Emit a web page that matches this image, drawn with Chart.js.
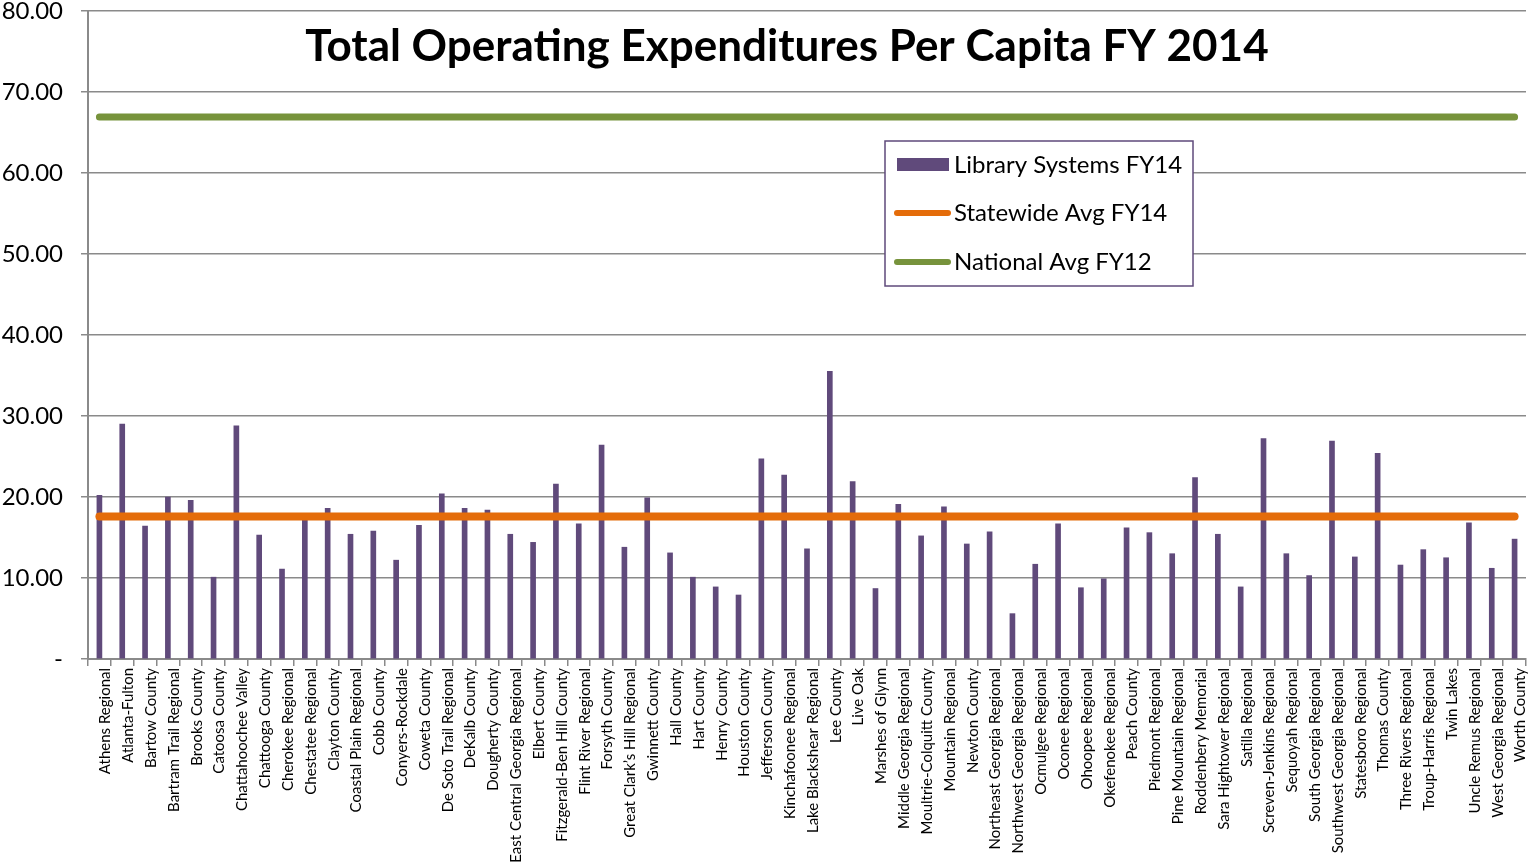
<!DOCTYPE html>
<html lang="en">
<head>
  <meta charset="utf-8"/>
  <title>Total Operating Expenditures Per Capita FY 2014</title>
  <script src="https://cdn.jsdelivr.net/npm/chart.js@4.4.1/dist/chart.umd.min.js"></script>
  <style>
    body { margin: 0; background: #fff; }
    #wrap { width: 1529px; height: 866px; position: relative; }
  </style>
</head>
<body>
  <div id="wrap"><canvas id="expChart"></canvas></div>
  <script>
    var libraries = [
      'Athens Regional', 'Atlanta-Fulton', 'Bartow County', 'Bartram Trail Regional', 'Brooks County',
      'Catoosa County', 'Chattahoochee Valley', 'Chattooga County', 'Cherokee Regional', 'Chestatee Regional',
      'Clayton County', 'Coastal Plain Regional', 'Cobb County', 'Conyers-Rockdale', 'Coweta County',
      'De Soto Trail Regional', 'DeKalb County', 'Dougherty County', 'East Central Georgia Regional', 'Elbert County',
      'Fitzgerald-Ben Hill County', 'Flint River Regional', 'Forsyth County', 'Great Clark\u2019s Hill Regional', 'Gwinnett County',
      'Hall County', 'Hart County', 'Henry County', 'Houston County', 'Jefferson County',
      'Kinchafoonee Regional', 'Lake Blackshear Regional', 'Lee County', 'Live Oak', 'Marshes of Glynn',
      'Middle Georgia Regional', 'Moultrie-Colquitt County', 'Mountain Regional', 'Newton County', 'Northeast Georgia Regional',
      'Northwest Georgia Regional', 'Ocmulgee Regional', 'Oconee Regional', 'Ohoopee Regional', 'Okefenokee Regional',
      'Peach County', 'Piedmont Regional', 'Pine Mountain Regional', 'Roddenbery Memorial', 'Sara Hightower Regional',
      'Satilla Regional', 'Screven-Jenkins Regional', 'Sequoyah Regional', 'South Georgia Regional', 'Southwest Georgia Regional',
      'Statesboro Regional', 'Thomas County', 'Three Rivers Regional', 'Troup-Harris Regional', 'Twin Lakes',
      'Uncle Remus Regional', 'West Georgia Regional', 'Worth County'
    ];

    var perCapitaFY14 = [
      20.2, 29.0, 16.4, 20.0, 19.6,
      10.1, 28.8, 15.3, 11.1, 17.4,
      18.6, 15.4, 15.8, 12.2, 16.5,
      20.4, 18.6, 18.4, 15.4, 14.4,
      21.6, 16.7, 26.4, 13.8, 19.9,
      13.1, 10.1, 8.9, 7.9, 24.7,
      22.7, 13.6, 35.5, 21.9, 8.7,
      19.1, 15.2, 18.8, 14.2, 15.7,
      5.6, 11.7, 16.7, 8.8, 9.9,
      16.2, 15.6, 13.0, 22.4, 15.4,
      8.9, 27.2, 13.0, 10.3, 26.9,
      12.6, 25.4, 11.6, 13.5, 12.5,
      16.8, 11.2, 14.8
    ];

    var statewideAvgFY14 = 17.6;
    var nationalAvgFY12 = 66.9;

    var FONT = 'Lato, "Open Sans", sans-serif';

    // title sits inside the plot, like the original
    var titlePlugin = {
      id: 'innerTitle',
      afterDraw: function(chart) {
        var ctx = chart.ctx;
        ctx.save();
        ctx.font = 'bold 44px ' + FONT;
        ctx.fillStyle = '#000';
        ctx.textAlign = 'center';
        ctx.textBaseline = 'middle';
        ctx.fillText('Total Operating Expenditures Per Capita FY 2014', 787, 47);
        ctx.restore();
      }
    };

    // boxed legend drawn over the plot
    var boxLegend = {
      id: 'boxLegend',
      afterDraw: function(chart) {
        var ctx = chart.ctx;
        var x = 885, y = 141, w = 308, h = 145;
        ctx.save();
        ctx.fillStyle = '#fff';
        ctx.fillRect(x, y, w, h);
        ctx.strokeStyle = '#5f4a7b';
        ctx.lineWidth = 1.5;
        ctx.strokeRect(x, y, w, h);
        ctx.font = '24px ' + FONT;
        ctx.textBaseline = 'middle';
        ctx.textAlign = 'left';
        var rows = [165, 213, 262];
        chart.data.datasets.forEach(function(ds, i) {
          var cy = rows[i];
          if (ds.type === 'line') {
            ctx.strokeStyle = ds.borderColor;
            ctx.lineWidth = 6;
            ctx.lineCap = 'round';
            ctx.beginPath();
            ctx.moveTo(897, cy);
            ctx.lineTo(948, cy);
            ctx.stroke();
          } else {
            ctx.fillStyle = ds.backgroundColor;
            ctx.fillRect(897, cy - 7, 52, 13);
          }
          ctx.fillStyle = '#000';
          ctx.fillText(ds.label, 954, cy);
        });
        ctx.restore();
      }
    };

    var ctx = document.getElementById('expChart');
    var myChart = new Chart(ctx, {
      data: {
        labels: libraries,
        datasets: [
          {
            type: 'bar',
            label: 'Library Systems FY14',
            data: perCapitaFY14,
            backgroundColor: '#604a7b',
            barThickness: 5,
            order: 3
          },
          {
            type: 'line',
            label: 'Statewide Avg FY14',
            data: libraries.map(function() { return statewideAvgFY14; }),
            borderColor: '#e46c0a',
            borderWidth: 8,
            borderCapStyle: 'round',
            pointRadius: 0,
            order: 2
          },
          {
            type: 'line',
            label: 'National Avg FY12',
            data: libraries.map(function() { return nationalAvgFY12; }),
            borderColor: '#77933c',
            borderWidth: 7,
            borderCapStyle: 'round',
            pointRadius: 0,
            order: 1
          }
        ]
      },
      options: {
        responsive: true,
        maintainAspectRatio: false,
        animation: false,
        layout: { padding: { top: 0, right: 0, left: 0, bottom: 0 } },
        plugins: {
          legend: { display: false },
          title: { display: false },
          tooltip: { enabled: false }
        },
        scales: {
          x: {
            offset: true,
            grid: {
              offset: true,
              drawOnChartArea: false,
              color: '#8a8a8a',
              lineWidth: 1.5,
              tickLength: 7
            },
            border: { color: '#8a8a8a', width: 2 },
            ticks: {
              autoSkip: false,
              minRotation: 90,
              maxRotation: 90,
              color: '#000',
              padding: 2,
              labelOffset: 6,
              font: { family: FONT, size: 15 }
            },
            afterFit: function(scale) {
              scale.height = 207;
              scale.paddingRight = 3;
            }
          },
          y: {
            min: 0,
            max: 80,
            grid: {
              color: '#8a8a8a',
              lineWidth: 1.5,
              tickLength: 7
            },
            border: { color: '#8a8a8a', width: 2 },
            ticks: {
              stepSize: 10,
              color: '#000',
              padding: 18,
              font: { family: FONT, size: 24 },
              callback: function(v) { return v === 0 ? '-' : v.toFixed(2); }
            },
            afterFit: function(scale) {
              scale.width = 88;
              scale.paddingTop = 11;
            }
          }
        }
      },
      plugins: [titlePlugin, boxLegend]
    });
  </script>
</body>
</html>
